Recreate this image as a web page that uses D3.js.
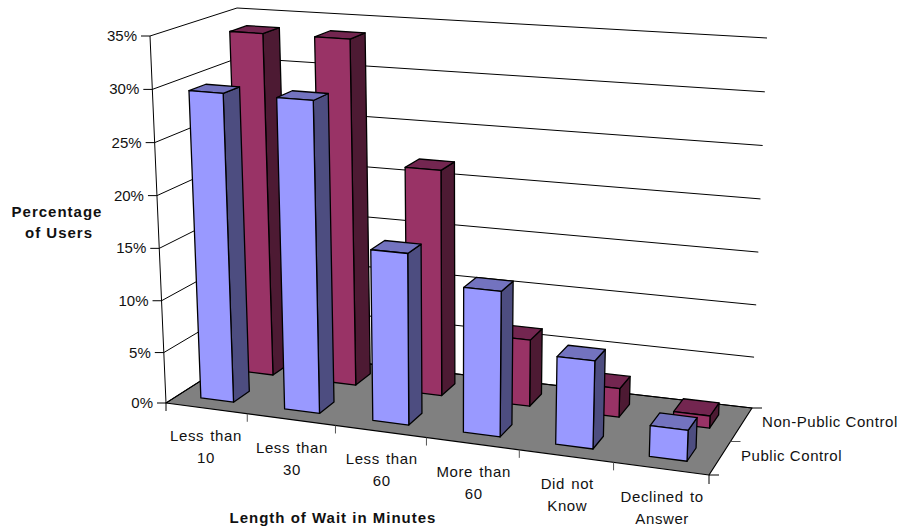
<!DOCTYPE html>
<html><head><meta charset="utf-8">
<script src="https://cdnjs.cloudflare.com/ajax/libs/d3/7.8.5/d3.min.js"></script>
<style>html,body{margin:0;padding:0;background:#fff;overflow:hidden}
text{font-family:"Liberation Sans",Arial,sans-serif;fill:#111}</style></head>
<body><svg id="c" width="898" height="531"></svg>
<script>
const categories = [["Less than","10"],["Less than","30"],["Less than","60"],["More than","60"],["Did not","Know"],["Declined to","Answer"]];
const seriesNames = ["Public Control","Non-Public Control"];
const publicControl = [29.6,29.6,16.2,13.6,8.2,2.9];
const nonPublicControl = [33.8,33.8,21.9,6.5,2.8,1.2];
const yTicks = [0,5,10,15,20,25,30,35];

// 3D box corners on the page
const corner = {
  flb:[166,403], flt:[150,36], frb:[709,475], frt:[724,77],
  blb:[249,350], blt:[237,8],  brb:[752,408], brt:[767,38]
};
const slot = d3.range(6);
const xBand = d3.scaleBand().domain(slot).range([0,1]).paddingInner(.6).paddingOuter(.3);
const xPers = d3.scalePow().exponent(1.06).domain([0,1]).range([0,1]);
const yScale = d3.scalePow().exponent(1.02).domain([0,35]).range([0,1]);
const zBand = d3.scaleBand().domain([0,1]).range([0,1]).paddingInner(.6).paddingOuter(.3);

function P(u,v,w){
  const mix=(a,b,t)=>[a[0]+(b[0]-a[0])*t,a[1]+(b[1]-a[1])*t];
  const a=mix(mix(corner.flb,corner.frb,u),mix(corner.blb,corner.brb,u),w);
  const b=mix(mix(corner.flt,corner.frt,u),mix(corner.blt,corner.brt,u),w);
  return mix(a,b,v);
}
const pt=(x,val,z)=>P(xPers(x),yScale(val),z);
const line=d3.line();
const svg=d3.select("#c");
const path=(pts,fill,sw=1)=>svg.append("path").attr("d",line(pts)+(fill!=="none"?"Z":"")).attr("fill",fill).attr("stroke","#000").attr("stroke-width",sw).attr("stroke-linejoin","round");

// floor
path([pt(0,0,0),pt(1,0,0),pt(1,0,1),pt(0,0,1)],"#808080",1.2);
// gridlines
yTicks.forEach(t=>{
  path([pt(0,t,0),pt(0,t,1),pt(1,t,1)],"none",1);
  const p=pt(0,t,0);
  path([p,[p[0]-9,p[1]]],"none",1);
  svg.append("text").attr("x",p[0]-13).attr("y",p[1]+5).attr("text-anchor","end").attr("font-size",15).text(t+"%");
});
path([pt(0,0,0),pt(0,35,0)],"none",1);
const o=pt(0,0,0); path([o,[o[0],o[1]+8]],"none",1);

// x ticks + labels
slot.forEach(i=>{
  const p=pt((i+1)/6,0,0);
  path([p,[p[0],p[1]+(i===5?9:8)]],"none",1).attr("stroke",i===5?"#000":"#555");
  const m=pt(xBand(i)+xBand.bandwidth()/2,0,0);
  categories[i].forEach((s,k)=>svg.append("text").attr("x",m[0]+1).attr("y",m[1]+33+k*22).attr("text-anchor","middle").attr("font-size",15).attr("letter-spacing",.6).attr("word-spacing",1.5).text(s));
});
// depth ticks + labels
[0,.5,1].forEach(w=>{const p=pt(1,0,w);path([p,[p[0]+10,p[1]]],"none",1).attr("stroke",w===.5?"#555":"#000");});
const sl=[[741,461],[762,427]];
seriesNames.forEach((s,i)=>svg.append("text").attr("x",sl[i][0]).attr("y",sl[i][1]).attr("font-size",15).attr("letter-spacing",.55).text(s));

// bars
const palette=[["#9999FF","#7373BF","#4D4D80"],["#993366","#732650","#4D1A33"]];
[nonPublicControl,publicControl].forEach((vals,k)=>{
  const s=1-k, c=palette[s], z0=zBand(s), z1=z0+zBand.bandwidth();
  slot.forEach(i=>{
    const x0=xBand(i),x1=x0+xBand.bandwidth(),v=vals[i];
    path([pt(x1,0,z0),pt(x1,0,z1),pt(x1,v,z1),pt(x1,v,z0)],c[2],1.3);
    path([pt(x0,v,z0),pt(x1,v,z0),pt(x1,v,z1),pt(x0,v,z1)],c[1],1.3);
    path([pt(x0,0,z0),pt(x1,0,z0),pt(x1,v,z0),pt(x0,v,z0)],c[0],1.3);
  });
});
// titles
const bold=(x,y,s,a)=>svg.append("text").attr("x",x).attr("y",y).attr("text-anchor",a).attr("font-weight","bold").attr("font-size",15).attr("letter-spacing",1).text(s);
bold(333,523,"Length of Wait in Minutes","middle");
bold(57,217,"Percentage","middle");
bold(59,238,"of Users","middle");
</script></body></html>
